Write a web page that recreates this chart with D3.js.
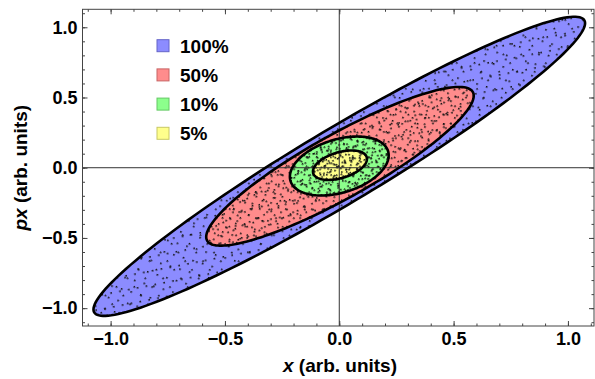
<!DOCTYPE html>
<html>
<head>
<meta charset="utf-8">
<script src="https://cdn.jsdelivr.net/npm/d3@7"></script>
<style>
  body { margin: 0; background: #fff; }
  svg { display: block; font-family: "Liberation Sans", Arial, Helvetica, sans-serif; font-weight: bold; }
</style>
</head>
<body>
<svg id="chart" width="595" height="379"></svg>
<script>
// Phase-space contours, outermost first
const levels = ["100%", "50%", "10%", "5%"];
const xHalf = [1.075, 0.585, 0.216, 0.118]; // max |x| of each contour
const pHalf = [1.065, 0.565, 0.21, 0.105]; // max |px| of each contour
const phase = [0.295, 0.475, 1.2, 1.13]; // x/px phase offset (sets the tilt)
const centerX = [0, 0.003, 0, 0.003];
const centerP = [0.01, 0.01, 0.012, 0.018];

const majorTicks = [-1.0, -0.5, 0.0, 0.5, 1.0];
const tickLabels = ["\u22121.0", "\u22120.5", "0.0", "0.5", "1.0"];

const fillColors = ["#8c8cff", "#ff8c8c", "#8cff8c", "#ffff8c"];
const edgeColors = ["#6464c8", "#c86464", "#64c864", "#c8c864"];
// particle stipple: each level adds a few rotated dot lattices [w, h, angle]
const dotLattices = [
  [[10, 12, 17], [11, 14, 52], [14, 9, 79]],
  [[8, 10, 23], [11, 8, 64]],
  [[7, 8, 31], [8, 9, 58]],
  [[7, 6, 13]],
];

const svg = d3.select("#chart");
const plotLeft = 82.5, plotRight = 594, plotTop = 9.3, plotBottom = 326;

const xScale = d3.scaleLinear().domain([-1.123, 1.114]).range([plotLeft, plotRight]);
const yScale = d3.scaleLinear().domain([-1.127, 1.128]).range([plotBottom, plotTop]);

/**
 * Points along one contour
 * @param {Number} i contour index
 * @return {Array} [[x, px], ...]
 */
function contour(i) {
  const pts = [];
  for (let k = 0; k < 180; k++) {
    const t = (k / 180) * 2 * Math.PI;
    pts.push([
      centerX[i] + xHalf[i] * Math.cos(t),
      centerP[i] + pHalf[i] * Math.cos(t - phase[i]),
    ]);
  }
  return pts;
}

const line = d3
  .line()
  .x(function (d) { return xScale(d[0]); })
  .y(function (d) { return yScale(d[1]); })
  .curve(d3.curveLinearClosed);

const defs = svg.append("defs");
levels.forEach(function (lvl, i) {
  defs.append("clipPath").attr("id", "clip-" + i)
    .append("path").attr("d", line(contour(i)));
  dotLattices[i].forEach(function (l, j) {
    const p = defs.append("pattern")
      .attr("id", "dots-" + i + "-" + j)
      .attr("patternUnits", "userSpaceOnUse")
      .attr("width", l[0]).attr("height", l[1])
      .attr("patternTransform", "rotate(" + l[2] + ")");
    p.append("rect").attr("width", 1.6).attr("height", 1.6).attr("fill", "#111");
  });
});

// Fills
svg.append("g").selectAll("path")
  .data(levels).enter().append("path")
  .attr("d", function (d, i) { return line(contour(i)); })
  .attr("fill", function (d, i) { return fillColors[i]; });

// Particles
levels.forEach(function (lvl, i) {
  dotLattices[i].forEach(function (l, j) {
    svg.append("rect")
      .attr("x", plotLeft).attr("y", plotTop)
      .attr("width", plotRight - plotLeft).attr("height", plotBottom - plotTop)
      .attr("fill", "url(#dots-" + i + "-" + j + ")")
      .attr("clip-path", "url(#clip-" + i + ")");
  });
});

// Axes through origin
svg.append("line")
  .attr("x1", plotLeft).attr("x2", plotRight)
  .attr("y1", yScale(0)).attr("y2", yScale(0))
  .attr("stroke", "#333").attr("stroke-width", 1);
svg.append("line")
  .attr("x1", xScale(0)).attr("x2", xScale(0))
  .attr("y1", plotTop).attr("y2", plotBottom)
  .attr("stroke", "#333").attr("stroke-width", 1);

// Outlines
svg.append("g").selectAll("path")
  .data(levels).enter().append("path")
  .attr("d", function (d, i) { return line(contour(i)); })
  .attr("fill", "none")
  .attr("stroke", "#000")
  .attr("stroke-width", 2.6);

// Frame with inward ticks on all sides
const minor = d3.range(-11, 12).map(function (v) { return v / 10; });
function styleAxis(g) {
  g.select(".domain").remove();
  g.selectAll(".tick line").attr("stroke", "#444");
  g.selectAll(".tick text").attr("fill", "#000").style("font-size", "18px").attr("font-family", null);
}
const fmtX = function (d) { return tickLabels[majorTicks.indexOf(d)]; };

svg.append("g").attr("transform", "translate(0," + plotBottom + ")")
  .call(d3.axisBottom(xScale).tickValues(minor).tickSize(-2.5).tickFormat(""))
  .call(styleAxis);
svg.append("g").attr("transform", "translate(0," + plotBottom + ")")
  .call(d3.axisBottom(xScale).tickValues(majorTicks).tickSize(-5).tickPadding(6).tickFormat(fmtX))
  .call(styleAxis);
svg.append("g").attr("transform", "translate(0," + plotTop + ")")
  .call(d3.axisTop(xScale).tickValues(minor).tickSize(-2.5).tickFormat(""))
  .call(styleAxis);
svg.append("g").attr("transform", "translate(0," + plotTop + ")")
  .call(d3.axisTop(xScale).tickValues(majorTicks).tickSize(-5).tickFormat(""))
  .call(styleAxis);
svg.append("g").attr("transform", "translate(" + plotLeft + ",0)")
  .call(d3.axisLeft(yScale).tickValues(minor).tickSize(-2.5).tickFormat(""))
  .call(styleAxis);
svg.append("g").attr("transform", "translate(" + plotLeft + ",0)")
  .call(d3.axisLeft(yScale).tickValues(majorTicks).tickSize(-5).tickPadding(5).tickFormat(fmtX))
  .call(styleAxis);
svg.append("g").attr("transform", "translate(" + plotRight + ",0)")
  .call(d3.axisRight(yScale).tickValues(minor).tickSize(-2.5).tickFormat(""))
  .call(styleAxis);
svg.append("g").attr("transform", "translate(" + plotRight + ",0)")
  .call(d3.axisRight(yScale).tickValues(majorTicks).tickSize(-5).tickFormat(""))
  .call(styleAxis);

svg.append("rect")
  .attr("x", plotLeft).attr("y", plotTop)
  .attr("width", plotRight - plotLeft).attr("height", plotBottom - plotTop)
  .attr("fill", "none").attr("stroke", "#444").attr("stroke-width", 1);

// Axis titles
const xt = svg.append("text")
  .attr("x", 340).attr("y", 372)
  .attr("text-anchor", "middle")
  .style("font-size", "19px");
xt.append("tspan").style("font-style", "italic").text("x");
xt.append("tspan").text(" (arb. units)");

const yt = svg.append("text")
  .attr("text-anchor", "middle")
  .attr("transform", "translate(27," + yScale(0) + ")rotate(-90)")
  .style("font-size", "19px");
yt.append("tspan").style("font-style", "italic").text("px");
yt.append("tspan").text(" (arb. units)");

// Legend
const legend = svg.append("g").selectAll("g")
  .data(levels).enter().append("g")
  .attr("transform", function (d, i) { return "translate(157," + (45.7 + i * 29.2) + ")"; });
legend.append("rect")
  .attr("x", 0).attr("y", -6).attr("width", 12).attr("height", 12)
  .attr("fill", function (d, i) { return fillColors[i]; })
  .attr("stroke", function (d, i) { return edgeColors[i]; })
  .attr("stroke-width", 1);
legend.append("text")
  .attr("x", 23).attr("y", 7)
  .style("font-size", "19px")
  .text(function (d) { return d; });
</script>
</body>
</html>
